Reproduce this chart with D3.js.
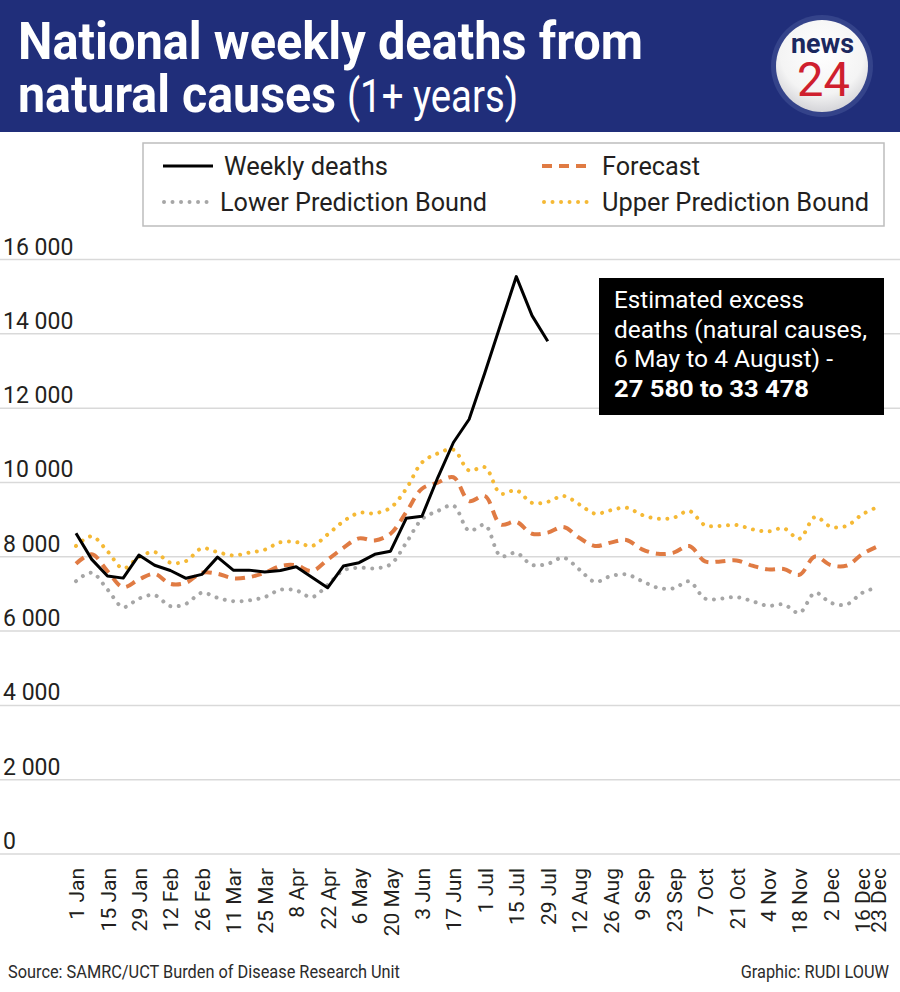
<!DOCTYPE html>
<html><head><meta charset="utf-8">
<script src="https://cdn.jsdelivr.net/npm/d3@7"></script>
<style>body{margin:0;background:#fff}svg{display:block}</style>
</head><body><div id="chart"></div>
<script>
// ---- data ----
const weeks = ["1 Jan","8 Jan","15 Jan","22 Jan","29 Jan","5 Feb","12 Feb","19 Feb","26 Feb","4 Mar","11 Mar","18 Mar","25 Mar","1 Apr","8 Apr","15 Apr","22 Apr","29 Apr","6 May","13 May","20 May","27 May","3 Jun","10 Jun","17 Jun","24 Jun","1 Jul","8 Jul","15 Jul","22 Jul","29 Jul","5 Aug","12 Aug","19 Aug","26 Aug","2 Sep","9 Sep","16 Sep","23 Sep","30 Sep","7 Oct","14 Oct","21 Oct","28 Oct","4 Nov","11 Nov","18 Nov","25 Nov","2 Dec","9 Dec","16 Dec","23 Dec"];
const tickLabels = ["1 Jan","15 Jan","29 Jan","12 Feb","26 Feb","11 Mar","25 Mar","8 Apr","22 Apr","6 May","20 May","3 Jun","17 Jun","1 Jul","15 Jul","29 Jul","12 Aug","26 Aug","9 Sep","23 Sep","7 Oct","21 Oct","4 Nov","18 Nov","2 Dec","16 Dec","23 Dec"];
const weeklyDeaths = [8630,7930,7480,7425,8045,7770,7630,7420,7525,7990,7640,7640,7590,7630,7730,7450,7165,7750,7840,8065,8150,9035,9090,10125,11075,11700,12950,14250,15540,14490,13800];
const forecast = [7810,8065,7615,7180,7390,7540,7270,7300,7570,7540,7420,7450,7570,7750,7770,7615,7920,8240,8495,8440,8620,9200,9830,9995,10140,9500,9635,8870,8940,8620,8650,8800,8510,8290,8380,8450,8200,8080,8110,8290,7875,7875,7900,7760,7660,7670,7515,8005,7775,7760,8070,8285];
const upperBound = [8290,8550,8150,7685,7990,8125,7840,7885,8225,8125,8035,8110,8190,8390,8395,8290,8600,8950,9180,9170,9320,9830,10535,10780,10880,10320,10410,9700,9790,9450,9480,9635,9410,9160,9250,9320,9125,9025,9050,9230,8850,8830,8855,8740,8680,8765,8485,9070,8810,8830,9140,9345];
const lowerBound = [7345,7570,7120,6645,6875,6965,6670,6735,7030,6895,6805,6825,6915,7110,7095,6915,7240,7630,7705,7690,7795,8375,9010,9230,9375,8700,8855,8020,8105,7780,7810,7975,7660,7325,7480,7525,7345,7165,7150,7335,6875,6870,6915,6805,6680,6715,6490,7030,6760,6715,7030,7180];
const yTicks = [0,2000,4000,6000,8000,10000,12000,14000,16000];
const legendItems = ["Weekly deaths","Forecast","Lower Prediction Bound","Upper Prediction Bound"];
const noteLines = ["Estimated excess","deaths (natural causes,","6 May to 4 August) -","27 580 to 33 478"];

// ---- setup ----
const W = 900, H = 992;
const FONT = "Roboto, 'Noto Sans', sans-serif";
const svg = d3.select("#chart").append("svg").attr("width", W).attr("height", H)
  .style("font-family", FONT);
svg.append("rect").attr("width", W).attr("height", H).attr("fill", "#fff");

function fit(t, w){ t.attr("textLength", w).attr("lengthAdjust", "spacingAndGlyphs"); return t; }

// header
svg.append("rect").attr("x",0).attr("y",0).attr("width",W).attr("height",132).attr("fill","#202e7a");
fit(svg.append("text").attr("x",18).attr("y",59).attr("fill","#fff").attr("font-size",52).attr("font-weight",700)
  .text("National weekly deaths from"), 625);
fit(svg.append("text").attr("x",18).attr("y",112).attr("fill","#fff").attr("font-size",52).attr("font-weight",700)
  .text("natural causes"), 318);
fit(svg.append("text").attr("x",347).attr("y",112).attr("fill","#fff").attr("font-size",46).attr("font-weight",400)
  .text("(1+ years)"), 171);

// logo
const defs = svg.append("defs");
const g1 = defs.append("radialGradient").attr("id","lg").attr("cx","50%").attr("cy","35%").attr("r","65%");
g1.append("stop").attr("offset","0%").attr("stop-color","#ffffff");
g1.append("stop").attr("offset","70%").attr("stop-color","#f4f4f4");
g1.append("stop").attr("offset","100%").attr("stop-color","#d4d4d8");
svg.append("circle").attr("cx",822).attr("cy",66).attr("r",51).attr("fill","#34438a");
svg.append("circle").attr("cx",822).attr("cy",66).attr("r",46).attr("fill","url(#lg)");
fit(svg.append("text").attr("x",791).attr("y",53).attr("fill","#1b285e").attr("font-size",28).attr("font-weight",700)
  .text("news"), 63);
fit(svg.append("text").attr("x",797).attr("y",96).attr("fill","#cf1f2e").attr("font-size",48).attr("font-weight",400)
  .text("24"), 53);

// scales
const x = d3.scalePoint().domain(weeks).range([76, 878]);
const y = d3.scaleLinear().domain([0, 16000]).range([854, 259.5]);

// gridlines + y labels
const grid = svg.append("g");
grid.selectAll("line").data(yTicks).join("line")
  .attr("x1",0).attr("x2",W).attr("y1",d=>y(d)).attr("y2",d=>y(d))
  .attr("stroke","#d9d9d9").attr("stroke-width",1.5);
const fmt = d => d3.format(",")(d).replace(/,/g, " ");
grid.selectAll("text").data(yTicks).join("text")
  .attr("x",3).attr("y",d=>y(d)-5).attr("font-size",23).attr("fill","#231f20")
  .text(fmt);

// x axis labels
const xAxis = d3.axisBottom(x).tickValues(tickLabels).tickSize(0).tickPadding(0);
const gx = svg.append("g").attr("transform","translate(0,868)").call(xAxis);
gx.select(".domain").remove();
gx.selectAll("text")
  .attr("font-family", FONT).attr("font-size",21).attr("fill","#231f20")
  .attr("text-anchor","end").attr("transform","rotate(-90)")
  .attr("x",0).attr("y",0).attr("dy","0.36em");

// lines
const lineLin = d3.line().x((d,i)=>x(weeks[i])).y(d=>y(d));
const lineSm = d3.line().x((d,i)=>x(weeks[i])).y(d=>y(d)).curve(d3.curveCatmullRom.alpha(0.5));

const styles = {
  weekly: {stroke:"#000", w:3, dash:null, cap:"butt"},
  forecast: {stroke:"#e07b43", w:4, dash:"10,7", cap:"butt"},
  lower: {stroke:"#a6a6a6", w:4, dash:"0.01,8.5", cap:"round"},
  upper: {stroke:"#f5b935", w:4, dash:"0.01,8.5", cap:"round"}
};
function draw(data, gen, s){
  svg.append("path").datum(data).attr("d", gen).attr("fill","none")
    .attr("stroke", s.stroke).attr("stroke-width", s.w)
    .attr("stroke-dasharray", s.dash).attr("stroke-linecap", s.cap).attr("stroke-linejoin","round");
}
draw(lowerBound, lineSm, styles.lower);
draw(upperBound, lineSm, styles.upper);
draw(forecast, lineSm, styles.forecast);
draw(weeklyDeaths, lineLin, styles.weekly);

// legend
const lg = svg.append("g");
lg.append("rect").attr("x",143).attr("y",143).attr("width",741).attr("height",83)
  .attr("fill","#fff").attr("stroke","#bdbdbd").attr("stroke-width",1.5);
const legPos = [
  {key:"weekly", x1:163, x2:213, y:166, tx:224, tw:164},
  {key:"forecast", x1:542, x2:592, y:166, tx:602, tw:98},
  {key:"lower", x1:164, x2:211, y:202, tx:220, tw:267},
  {key:"upper", x1:544, x2:590, y:202, tx:602, tw:267}
];
legPos.forEach((p,i)=>{
  const s = styles[p.key];
  lg.append("line").attr("x1",p.x1).attr("x2",p.x2).attr("y1",p.y).attr("y2",p.y)
    .attr("stroke",s.stroke).attr("stroke-width",s.w).attr("stroke-dasharray",s.dash).attr("stroke-linecap",s.cap);
  fit(lg.append("text").attr("x",p.tx).attr("y",p.y+9).attr("font-size",25).attr("fill","#231f20")
    .text(legendItems[i]), p.tw);
});

// annotation
svg.append("rect").attr("x",599).attr("y",278).attr("width",285).attr("height",137).attr("fill","#000");
const noteW = [190,253,219,195];
noteLines.forEach((t,i)=>{
  fit(svg.append("text").attr("x",614).attr("y",308+i*29.6).attr("font-size",24).attr("fill","#fff")
    .attr("font-weight", i===3?700:400).text(t), noteW[i]);
});

// footer (condensed with a horizontal scale so the box matches what is drawn)
svg.append("text").attr("transform","translate(8,978) scale(0.86,1)").attr("font-size",19).attr("fill","#2b2b2b")
  .text("Source: SAMRC/UCT Burden of Disease Research Unit");
svg.append("text").attr("transform","translate(889,978) scale(0.86,1)").attr("text-anchor","end").attr("font-size",19).attr("fill","#2b2b2b")
  .text("Graphic: RUDI LOUW");
</script>
</body></html>
